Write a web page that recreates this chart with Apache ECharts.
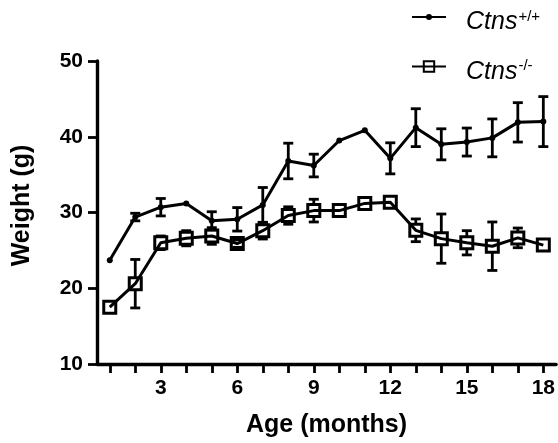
<!DOCTYPE html>
<html>
<head>
<meta charset="utf-8">
<script src="https://cdn.jsdelivr.net/npm/echarts@6/dist/echarts.min.js"></script>
<style>
html,body{margin:0;padding:0;background:#fff;}
#chart{width:558px;height:443px;}
</style>
</head>
<body>
<div id="chart"></div>
<script>
// ---- data ----
var months = [1,2,3,4,5,6,7,8,9,10,11,12,13,14,15,16,17,18];
var wtMean = [23.7,29.4,30.7,31.2,28.9,29.1,31.0,36.8,36.2,39.5,40.85,37.15,41.2,39.0,39.3,39.85,41.9,42.0];
var wtErr  = [0,0.5,1.15,0,1.2,1.55,2.3,2.35,1.5,0,0,2.05,2.5,2.05,1.85,2.5,2.6,3.3];
var koMean = [17.5,20.6,26.0,26.6,26.9,25.9,27.6,29.6,30.25,30.25,31.2,31.35,27.65,26.55,26.0,25.55,26.65,25.7];
var koErr  = [0,3.2,0.9,1.0,1.1,0.5,1.1,1.15,1.5,0,0,0,1.5,3.25,1.6,3.2,1.3,0];
var xTickValues = [1,2,3,4,5,6,7,8,9,10,11,12,13,14,15,16,17,18];
var xLabelValues = [3,6,9,12,15,18];
var yTicks = [10,20,30,40,50];
var seriesNames = ['Ctns+/+','Ctns-/-'];
var legendSup = ['+/+','-/-'];

var FONT = '"Liberation Sans", Arial, Helvetica, sans-serif';

function pairs(mean){ return months.map(function(m,i){ return [m, mean[i]]; }); }
function errData(mean, err){
  var out = [];
  months.forEach(function(m,i){ if (err[i] > 0) out.push([m, mean[i]-err[i], mean[i]+err[i], mean[i]]); });
  return out;
}
function errRender(gap){
  return function(params, api){
    var x = api.value(0), lo = api.value(1), hi = api.value(2), m = api.value(3);
    var c = api.coord([x, m]);
    var t = api.coord([x, hi]);
    var b = api.coord([x, lo]);
    var hw = 5;
    var st = {stroke:'#000', lineWidth:2.8};
    var ch = [];
    if (t[1] < c[1] - gap) ch.push({type:'line', shape:{x1:c[0], y1:c[1]-gap, x2:t[0], y2:t[1]}, style:st});
    if (b[1] > c[1] + gap) ch.push({type:'line', shape:{x1:c[0], y1:c[1]+gap, x2:b[0], y2:b[1]}, style:st});
    ch.push({type:'line', shape:{x1:t[0]-hw, y1:t[1], x2:t[0]+hw, y2:t[1]}, style:st});
    ch.push({type:'line', shape:{x1:b[0]-hw, y1:b[1], x2:b[0]+hw, y2:b[1]}, style:st});
    return {type:'group', children:ch};
  };
}

var richText = {
  a:{fontFamily:FONT, fontStyle:'italic', fontSize:25, color:'#000', padding:[0,0,0,15]},
  b:{fontFamily:FONT, fontSize:15, color:'#000', verticalAlign:'top', padding:[0,0,12,1]}
};
function legendFmt(name){ return '{a|Ctns}{b|' + legendSup[seriesNames.indexOf(name)] + '}'; }

var chart = echarts.init(document.getElementById('chart'), null, {renderer:'canvas'});
chart.setOption({
  backgroundColor:'#fff',
  animation:false,
  grid:{left:97, right:1, top:61, bottom:76, containLabel:false},
  legend:[
    {data:[seriesNames[0]], left:411, top:9, orient:'vertical', padding:0, itemWidth:34, itemHeight:7.5,
     formatter:legendFmt, textStyle:{rich:richText, padding:[11,0,0,0]}},
    {data:[seriesNames[1]], left:411, top:58.5, orient:'vertical', padding:0, itemWidth:34, itemHeight:13,
     formatter:legendFmt, textStyle:{rich:richText, padding:[11,0,0,0]}}
  ],
  xAxis:{
    type:'value', min:0.5, max:18.5,
    name:'Age (months)', nameLocation:'middle', nameGap:49,
    nameTextStyle:{fontFamily:FONT, fontWeight:'bold', fontSize:25, color:'#000'},
    axisLine:{show:true, lineStyle:{color:'#000', width:3.4}},
    axisTick:{show:true, length:9, lineStyle:{color:'#000', width:2.8}, customValues:xTickValues},
    axisLabel:{fontFamily:FONT, fontWeight:'bold', fontSize:21, color:'#000', margin:14, customValues:xLabelValues},
    splitLine:{show:false}
  },
  yAxis:{
    type:'value', min:yTicks[0], max:yTicks[yTicks.length-1], interval:10,
    name:'Weight (g)', nameLocation:'middle', nameGap:62,
    nameTextStyle:{fontFamily:FONT, fontWeight:'bold', fontSize:25, color:'#000', padding:[0,0,0,14]},
    axisLine:{show:true, lineStyle:{color:'#000', width:3.4}},
    axisTick:{show:true, length:9, lineStyle:{color:'#000', width:2.8}},
    axisLabel:{fontFamily:FONT, fontWeight:'bold', fontSize:21, color:'#000', margin:14},
    splitLine:{show:false}
  },
  series:[
    {name:seriesNames[0], type:'line', data:pairs(wtMean), symbol:'circle', symbolSize:6,
     lineStyle:{color:'#000', width:3}, itemStyle:{color:'#000'}, z:3},
    {name:seriesNames[1], type:'line', data:pairs(koMean), symbol:'rect', symbolSize:12,
     lineStyle:{color:'#000', width:3}, itemStyle:{color:'rgba(255,255,255,0)', borderColor:'#000', borderWidth:3}, z:3},
    {name:'wtErr', type:'custom', data:errData(wtMean, wtErr), renderItem:errRender(0), z:4, silent:true},
    {name:'koErr', type:'custom', data:errData(koMean, koErr), renderItem:errRender(6), z:4, silent:true}
  ]
});
</script>
</body>
</html>
